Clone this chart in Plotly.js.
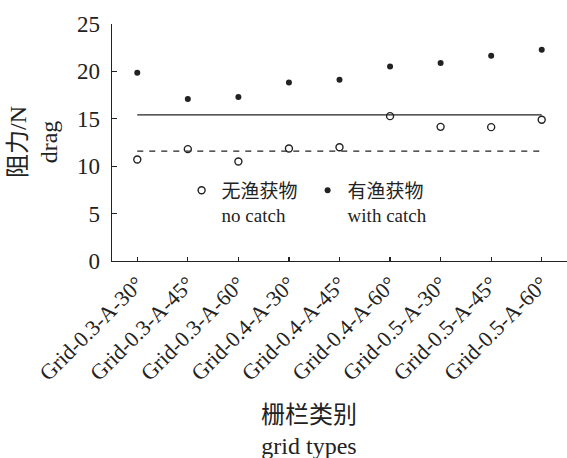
<!DOCTYPE html>
<html>
<head>
<meta charset="utf-8">
<script src="https://cdn.plot.ly/plotly-3.0.1.min.js"></script>
<style>html,body{margin:0;padding:0;background:#fff}#chart{width:567px;height:458px}</style>
</head>
<body>
<div id="chart"></div>
<script>
const categories = ["Grid-0.3-A-30°","Grid-0.3-A-45°","Grid-0.3-A-60°","Grid-0.4-A-30°","Grid-0.4-A-45°","Grid-0.4-A-60°","Grid-0.5-A-30°","Grid-0.5-A-45°","Grid-0.5-A-60°"];
const noCatch = [10.7, 11.8, 10.5, 11.87, 12.0, 15.28, 14.15, 14.12, 14.9];
const withCatch = [19.86, 17.08, 17.29, 18.84, 19.12, 20.53, 20.88, 21.65, 22.29];
const levelSolid = 15.42;
const levelDashed = 11.58;
const seriesNames = ["无渔获物<br>no catch", "有渔获物<br>with catch"];
const yTicks = [0, 5, 10, 15, 20, 25];

const FONT = "Liberation Serif, Noto Sans CJK SC, serif";
const INK = "#222";

const traces = [
  {x: [categories[0], categories[categories.length-1]], y: [levelSolid, levelSolid], mode: "lines",
   line: {color: INK, width: 1.3}, showlegend: false, hoverinfo: "skip"},
  {x: [categories[0], categories[categories.length-1]], y: [levelDashed, levelDashed], mode: "lines",
   line: {color: INK, width: 1.3, dash: "6px,6px"}, showlegend: false, hoverinfo: "skip"},
  {x: categories, y: noCatch, mode: "markers", name: seriesNames[0],
   marker: {symbol: "circle-open", size: 7, color: INK, line: {width: 1.4, color: INK}}},
  {x: categories, y: withCatch, mode: "markers", name: seriesNames[1],
   marker: {symbol: "circle", size: 6, color: INK}}
];

const layout = {
  width: 567, height: 458,
  margin: {l: 112, r: 0, t: 24, b: 197, pad: 0},
  paper_bgcolor: "#fff", plot_bgcolor: "#fff",
  font: {family: FONT, color: INK, size: 19},
  showlegend: true,
  legend: {orientation: "h", x: 0.153, xanchor: "left", y: 0.378, yanchor: "top",
           entrywidth: 81, entrywidthmode: "pixels", valign: "top",
           font: {family: FONT, size: 19, color: INK}, bgcolor: "rgba(0,0,0,0)", borderwidth: 0},
  xaxis: {type: "category", categoryarray: categories, range: [-0.5, 8.5],
          showline: true, linecolor: INK, linewidth: 1.3, showgrid: false, zeroline: false,
          ticks: "inside", ticklen: 4, tickwidth: 1.3, tickcolor: INK,
          tickangle: -45, tickfont: {family: FONT, size: 22, color: INK}},
  yaxis: {range: [0, 25], tickvals: yTicks, ticktext: yTicks.map(String),
          showline: true, linecolor: INK, linewidth: 1.3, showgrid: false, zeroline: false,
          ticks: "inside", ticklen: 5, tickwidth: 1.3, tickcolor: INK, ticklabelstandoff: 6,
          tickfont: {family: FONT, size: 23, color: INK}},
  annotations: [
    {text: "阻力/N<br>drag", xref: "paper", yref: "paper", x: 0, y: 0.5, xshift: -78.5,
     xanchor: "center", yanchor: "middle", textangle: -90, showarrow: false,
     font: {family: FONT, size: 24, color: INK}},
    {text: "栅栏类别<br>grid types", xref: "paper", yref: "paper", x: 0, y: 0, xshift: 197, yshift: -169,
     xanchor: "center", yanchor: "middle", showarrow: false,
     font: {family: FONT, size: 24, color: INK}}
  ]
};

Plotly.newPlot("chart", traces, layout, {staticPlot: true, displayModeBar: false});
</script>
</body>
</html>
